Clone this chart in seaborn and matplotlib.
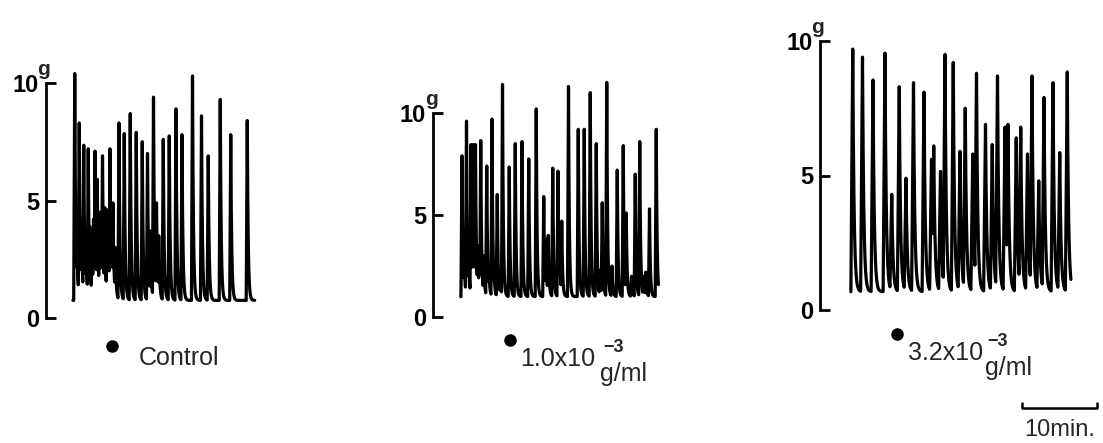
import numpy as np
import pandas as pd
import matplotlib
matplotlib.use("Agg")
import matplotlib.pyplot as plt
import seaborn as sns

# ---------------- data (time in min, tension in g) ----------------
# Control
ctrl_t = [0.1, 0.7, 1.3, 1.9, 2.1, 2.8, 3.1, 3.8, 4.1, 4.8, 5.2, 6.0, 6.7, 7.5, 8.3,
          9.1, 9.8, 10.6, 11.0, 11.9, 12.7, 13.6, 14.4, 15.8, 17.0, 17.9, 19.5, 20.9, 23.1]
ctrl_peak = [10.4, 8.3, 7.35, 7.2, 3.9, 7.1, 5.9, 6.9, 4.7, 7.2, 4.9, 8.3, 7.85, 8.7, 7.9,
             7.5, 7.0, 9.4, 4.9, 7.6, 7.75, 8.9, 7.8, 10.3, 8.6, 6.9, 9.3, 7.8, 8.4]
ctrl_small_t = [0.4, 1.0, 1.6, 2.4, 2.6, 3.4, 3.6, 4.4, 4.6, 5.0, 5.5, 10.2, 11.3]
ctrl_small_peak = [3.5, 4.0, 3.6, 3.3, 4.2, 4.5, 3.8, 4.6, 3.2, 4.0, 3.0, 3.7, 3.5]
ctrl_base = 0.75
ctrl_end = 24.1

# 1.0 x 10^-3 g/ml
d1_t = [0.0, 0.6, 1.2, 1.5, 1.8, 2.5, 3.3, 4.0, 4.7, 5.4, 6.3, 7.1, 8.0, 8.9, 9.9,
        10.9, 11.5, 12.1, 12.8, 13.3, 14.2, 15.5, 16.3, 17.1, 17.9, 18.7, 19.3, 20.0,
        20.7, 21.5, 21.9, 22.6, 23.1, 23.7, 24.5, 25.0, 25.9]
d1_peak = [7.9, 9.6, 8.45, 8.45, 8.45, 8.65, 7.4, 9.7, 6.0, 11.4, 7.35, 8.5, 8.6, 7.75, 10.2,
           5.9, 4.0, 7.3, 7.15, 4.7, 11.3, 9.2, 9.2, 11.0, 8.5, 5.6, 11.5, 2.5,
           7.2, 8.4, 5.1, 2.0, 7.0, 8.6, 2.2, 5.3, 9.2]
d1_small_t = [0.3, 0.9, 2.1, 2.3, 2.9, 3.6, 4.3, 5.1, 11.2, 13.0, 18.4, 24.2]
d1_small_peak = [3.0, 2.8, 3.5, 3.2, 3.0, 2.3, 2.0, 2.0, 3.8, 4.0, 2.3, 2.0]
d1_base = 1.0
d1_end = 26.2

# 3.2 x 10^-3 g/ml
d2_t = [0.1, 1.4, 2.8, 4.4, 5.3, 6.3, 7.2, 8.2, 9.6, 10.6, 10.9, 11.8, 12.4, 13.5,
        14.4, 15.1, 16.1, 16.6, 17.8, 18.7, 19.4, 20.4, 20.8, 21.9, 22.5, 23.4, 24.0,
        24.9, 25.6, 26.8, 27.7, 28.7]
d2_peak = [9.7, 9.4, 8.55, 9.55, 4.3, 8.3, 4.9, 8.45, 8.1, 5.6, 6.1, 5.15, 9.5, 9.2,
           5.9, 7.5, 5.8, 8.8, 6.9, 6.15, 8.7, 6.8, 6.9, 6.4, 6.8, 5.8, 8.7,
           4.8, 7.9, 8.45, 5.85, 8.85]
d2_base = 0.68
d2_end = 29.2

scale_min = 10  # scale bar, minutes

# ---------------- helpers ----------------
W, H = 1103, 443


def trace(times, peaks, base, end, rise, tau, step=0.01):
    t = np.arange(-0.15, end, step)
    y = np.full_like(t, base)
    for t0, p in zip(times, peaks):
        dt = t - t0
        s = np.zeros_like(t)
        up = (dt >= -rise) & (dt < 0)
        s[up] = (dt[up] + rise) / rise
        dn = dt >= 0
        s[dn] = np.exp(-dt[dn] / tau)
        y = np.maximum(y, base + (p - base) * s)
    return pd.DataFrame({"t": t, "g": y})


sns.set_style("white")
plt.rcParams["font.family"] = ["Liberation Sans", "DejaVu Sans"]

fig = plt.figure(figsize=(W / 100, H / 100), dpi=100)

PXMIN = 7.5  # pixels per minute


def make_axes(spine_x, start_x, zero_y, px_per_g, ymax, width_px):
    ax = fig.add_axes([spine_x / W, (H - zero_y) / H, width_px / W, ymax * px_per_g / H])
    x0 = -(start_x - spine_x) / PXMIN
    ax.set_xlim(x0, x0 + width_px / PXMIN)
    ax.set_ylim(0, ymax)
    for s in ["top", "right", "bottom"]:
        ax.spines[s].set_visible(False)
    ax.spines["left"].set_bounds(0, 10)
    ax.spines["left"].set_linewidth(2)
    ax.spines["left"].set_color("black")
    ax.set_yticks([0, 5, 10])
    ax.set_yticklabels(["0", "5", "10"])
    ax.tick_params(axis="y", direction="in", length=7, width=2, pad=5,
                   labelsize=17, colors="black", left=True)
    for lab in ax.get_yticklabels():
        lab.set_fontweight("bold")
    ax.set_xticks([])
    ax.patch.set_alpha(0)
    ax.annotate("g", xy=(0, 10), xycoords=("axes fraction", "data"),
                xytext=(-2, 4), textcoords="offset pixels", ha="center",
                va="bottom", fontsize=15, fontweight="bold")
    return ax


ax1 = make_axes(46, 74, 318, 23.5, 12, 230)
ax2 = make_axes(433, 462, 317, 20.4, 12, 240)
ax3 = make_axes(820, 852, 310, 26.9, 11, 260)

df1 = trace(ctrl_t + ctrl_small_t, ctrl_peak + ctrl_small_peak, ctrl_base, ctrl_end, 0.14, 0.12)
df2 = trace(d1_t + d1_small_t, d1_peak + d1_small_peak, d1_base, d1_end, 0.14, 0.11)
df3 = trace(d2_t, d2_peak, d2_base, d2_end, 0.25, 0.17)

for ax, df in [(ax1, df1), (ax2, df2), (ax3, df3)]:
    sns.lineplot(data=df, x="t", y="g", ax=ax, color="black", lw=2.3,
                 estimator=None, sort=False, clip_on=False)
    ax.set_xlabel("")
    ax.set_ylabel("")

# application dots
for ax, (tx, ty) in [(ax1, (5.07, -1.19)), (ax2, (6.4, -1.13)), (ax3, (6.0, -0.89))]:
    ax.plot([tx], [ty], "o", color="black", ms=8, clip_on=False)


def ftext(px, py, s, **kw):
    fig.text(px / W, 1 - py / H, s, **kw)


ftext(139, 358, "Control", fontsize=18, va="center", ha="left")
ftext(520, 366, "1.0x10", fontsize=18, va="baseline", ha="left")
ftext(603, 352, "\u22123", fontsize=13, va="baseline", ha="left", fontweight="bold")
ftext(600, 381, "g/ml", fontsize=18, va="baseline", ha="left")
ftext(908, 360, "3.2x10", fontsize=18, va="baseline", ha="left")
ftext(987, 346, "\u22123", fontsize=13, va="baseline", ha="left", fontweight="bold")
ftext(985, 375, "g/ml", fontsize=18, va="baseline", ha="left")

# scale bar (drawn in panel 3 time units)
sb_x0 = (1022 - 852) / PXMIN
sb_y = (310 - 408) / 26.9
sb_h = 5 / 26.9
ax3.plot([sb_x0, sb_x0, sb_x0 + scale_min, sb_x0 + scale_min],
         [sb_y + sb_h, sb_y, sb_y, sb_y + sb_h], color="black", lw=1.8, clip_on=False)
ax3.text(sb_x0 + scale_min / 2, (310 - 430) / 26.9, "10min.", ha="center", va="center",
         fontsize=17)

fig.savefig("out.png", dpi=100)
